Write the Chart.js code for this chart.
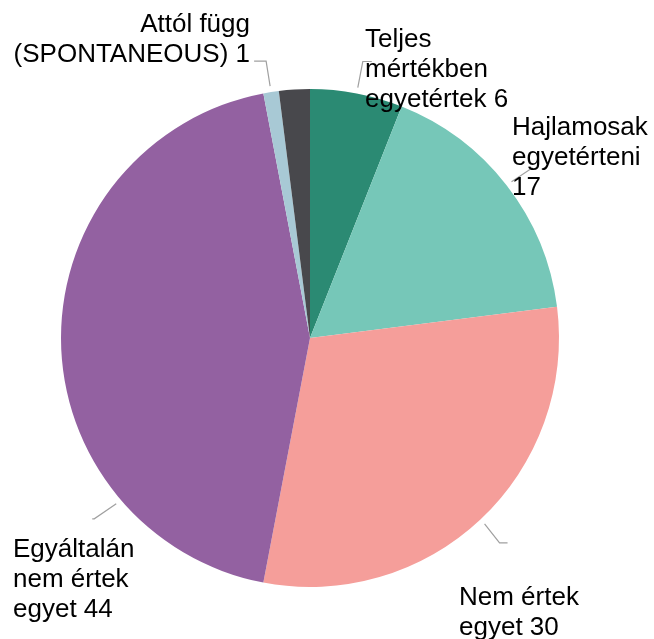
<!DOCTYPE html>
<html>
<head>
<meta charset="utf-8">
<script src="https://cdn.jsdelivr.net/npm/chart.js@4/dist/chart.umd.min.js"></script>
<style>
html,body{margin:0;padding:0;background:#fff;}
#wrap{width:654px;height:639px;}
</style>
</head>
<body>
<div id="wrap"><canvas id="c" width="654" height="639"></canvas></div>
<script>
// Data
const categories = ["Teljes mértékben egyetértek", "Hajlamosak egyetérteni", "Nem értek egyet", "Egyáltalán nem értek egyet", "Attól függ (SPONTANEOUS)", "Nem tudja"];
const values = [6, 17, 30, 44, 1, 2];
const labelLines = [
  ["Teljes", "mértékben", "egyetértek 6"],
  ["Hajlamosak", "egyetérteni", "17"],
  ["Nem értek", "egyet 30"],
  ["Egyáltalán", "nem értek", "egyet 44"],
  ["Attól függ", "(SPONTANEOUS) 1"],
  null
];
const colors = ["#2b8a73", "#76c7b8", "#f59e9a", "#9361a1", "#a8c9d5", "#48484c"];

// label layout (leader anchor fraction along arc, leader offsets, text placement)
const labelLayout = [
  {t: 0.5, pts: [[5, -26], [14, -26]], x: 365, y: 47, align: "left"},
  {t: 0.5, pts: [[21, -14]], x: 512, y: 135, align: "left"},
  {t: 0.5, pts: [[15, 19], [23, 19]], x: 459, y: 605, align: "left"},
  {t: 0.244, pts: [[-22, 15], [-24, 15]], x: 13, y: 557, align: "left"},
  {t: 0.5, pts: [[-4, -25], [-16, -25]], x: 250, y: 32, align: "right"},
  null
];

const labelPlugin = {
  id: "pieLabels",
  afterDatasetsDraw(chart) {
    const ctx = chart.ctx;
    const meta = chart.getDatasetMeta(0);
    meta.data.forEach((arc, i) => {
      const lay = labelLayout[i];
      const lines = labelLines[i];
      if (!lay || !lines) return;
      const p = arc.getProps(["x", "y", "startAngle", "endAngle", "outerRadius"], true);
      const a = p.startAngle + (p.endAngle - p.startAngle) * lay.t;
      const r = p.outerRadius + 6;
      const sx = p.x + Math.cos(a) * r;
      const sy = p.y + Math.sin(a) * r;
      ctx.save();
      ctx.strokeStyle = "#a0a0a0";
      ctx.lineWidth = 1.2;
      ctx.beginPath();
      ctx.moveTo(sx, sy);
      lay.pts.forEach(q => ctx.lineTo(sx + q[0], sy + q[1]));
      ctx.stroke();
      ctx.fillStyle = "#000";
      ctx.font = "26px 'Liberation Sans', Arial, sans-serif";
      ctx.textAlign = lay.align;
      ctx.textBaseline = "alphabetic";
      lines.forEach((ln, k) => ctx.fillText(ln, lay.x, lay.y + k * 30));
      ctx.restore();
    });
  }
};

new Chart(document.getElementById("c"), {
  type: "pie",
  data: {
    labels: categories,
    datasets: [{
      data: values,
      backgroundColor: colors,
      borderWidth: 0,
      hoverOffset: 0
    }]
  },
  options: {
    responsive: false,
    animation: false,
    layout: {padding: {left: 61, right: 95, top: 89, bottom: 52}},
    plugins: {
      legend: {display: false},
      tooltip: {enabled: false}
    }
  },
  plugins: [labelPlugin]
});
</script>
</body>
</html>
